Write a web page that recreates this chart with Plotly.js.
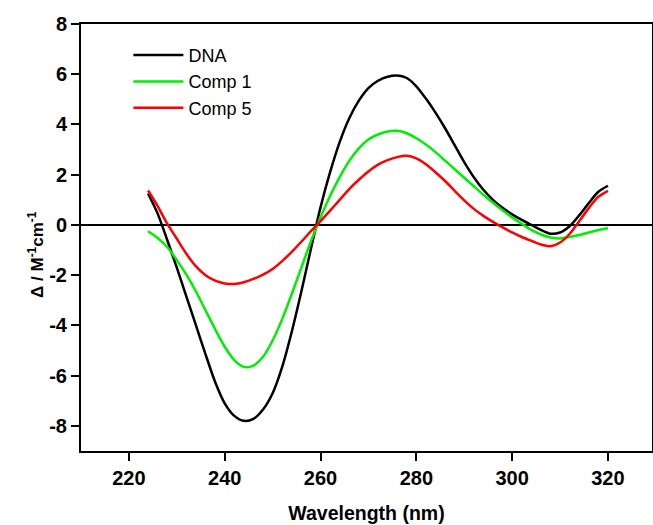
<!DOCTYPE html>
<html>
<head>
<meta charset="utf-8">
<script src="https://cdn.plot.ly/plotly-3.0.1.min.js"></script>
<style>html,body{margin:0;padding:0;background:#fff;}#chart{width:653px;height:525px;}</style>
</head>
<body>
<div id="chart"></div>
<script>
const wavelength = [224,226,228,230,232,234,236,238,240,242,244,246,248,250,252,254,256,258,260,262,264,266,268,270,272,274,276,278,280,282,284,286,288,290,292,294,296,298,300,302,304,306,308,310,312,314,316,318,320];
const dna = [1.25,0.45,-0.6,-1.7,-2.85,-4.0,-5.15,-6.25,-7.1,-7.6,-7.8,-7.72,-7.35,-6.7,-5.65,-4.25,-2.65,-0.95,0.7,2.1,3.3,4.25,4.95,5.45,5.74,5.9,5.95,5.85,5.52,5.03,4.47,3.85,3.18,2.5,1.9,1.4,1.0,0.68,0.42,0.2,0.0,-0.2,-0.35,-0.3,-0.05,0.38,0.87,1.32,1.56];
const comp1 = [-0.25,-0.52,-0.88,-1.4,-1.98,-2.65,-3.4,-4.15,-4.85,-5.38,-5.65,-5.6,-5.25,-4.6,-3.75,-2.75,-1.7,-0.65,0.3,1.15,1.9,2.55,3.05,3.4,3.6,3.72,3.75,3.65,3.45,3.2,2.9,2.56,2.22,1.88,1.54,1.2,0.88,0.58,0.3,0.05,-0.2,-0.38,-0.5,-0.54,-0.48,-0.4,-0.3,-0.2,-0.13];
const comp5 = [1.37,0.75,0.05,-0.55,-1.15,-1.65,-2.0,-2.22,-2.33,-2.35,-2.28,-2.15,-1.98,-1.75,-1.44,-1.07,-0.67,-0.25,0.15,0.57,1.0,1.43,1.8,2.13,2.4,2.58,2.7,2.75,2.65,2.42,2.1,1.75,1.36,0.98,0.64,0.36,0.12,-0.1,-0.3,-0.48,-0.63,-0.78,-0.85,-0.7,-0.36,0.15,0.67,1.12,1.36];
const seriesNames = ["DNA","Comp 1","Comp 5"];
const seriesColors = ["#000000","#00ee00","#ff0000"];
const xTicks = [220,240,260,280,300,320];
const yTicks = [-8,-6,-4,-2,0,2,4,6,8];

const ys = [dna, comp1, comp5];
const traces = ys.map((y,i)=>({
  x: wavelength, y: y, type: 'scatter', mode: 'lines', name: seriesNames[i],
  line: {color: seriesColors[i], width: 2.5, shape: 'spline', smoothing: 0.8}
}));

const FF = 'Liberation Sans, Arial, sans-serif';
const tickFont = {family: FF, size: 20, color: '#000', weight: 'bold'};
const layout = {
  width: 653, height: 525,
  margin: {l: 81, r: 1, t: 24, b: 74},
  paper_bgcolor: '#fff', plot_bgcolor: '#fff',
  showlegend: true,
  legend: {x: 0.083, y: 0.97, xanchor: 'left', yanchor: 'top', bgcolor: 'rgba(0,0,0,0)',
    itemwidth: 50,
    font: {family: FF, size: 18, color: '#000'}, tracegroupgap: 0},
  xaxis: {
    range: [210, 329.2], tickvals: xTicks, ticktext: xTicks.map(String),
    showgrid: false, zeroline: false, showline: true, linecolor: '#000', linewidth: 2, mirror: true,
    ticks: 'outside', ticklen: 8, tickwidth: 2, tickcolor: '#000', tickfont: tickFont,
    title: {text: 'Wavelength (nm)', font: {family: FF, size: 19.5, color: '#000', weight: 'bold'}, standoff: 18}
  },
  yaxis: {
    range: [-9, 8], tickvals: yTicks, ticktext: yTicks.map(String),
    showgrid: false, zeroline: true, zerolinecolor: '#000', zerolinewidth: 2,
    showline: true, linecolor: '#000', linewidth: 2, mirror: true,
    ticks: 'outside', ticklen: 8, tickwidth: 2, tickcolor: '#000', tickfont: tickFont
  },
  annotations: [{
    text: 'Δ / M<sup>-1</sup>cm<sup>-1</sup>', textangle: -90, showarrow: false,
    xref: 'paper', yref: 'paper', x: -0.08, y: 0.46, xanchor: 'center', yanchor: 'middle',
    font: {family: FF, size: 17, color: '#000', weight: 'bold'}
  }]
};
Plotly.newPlot('chart', traces, layout, {displayModeBar: false, staticPlot: true});
</script>
</body>
</html>
